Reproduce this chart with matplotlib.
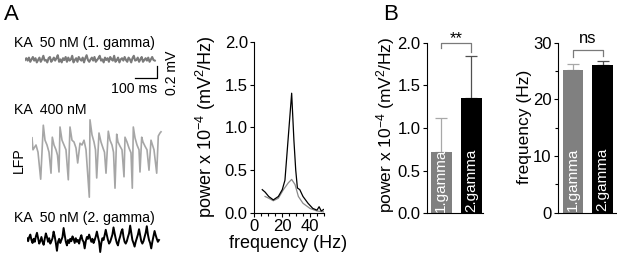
import matplotlib
matplotlib.use("Agg")
import matplotlib.pyplot as plt
import numpy as np

plt.rcParams['font.family'] = ['Liberation Sans', 'DejaVu Sans']
plt.rcParams['mathtext.fontset'] = 'custom'
plt.rcParams['mathtext.rm'] = 'Liberation Sans'
plt.rcParams['mathtext.it'] = 'Liberation Sans:italic'
plt.rcParams['mathtext.bf'] = 'Liberation Sans:bold'

# ---------------- data ----------------
# trace 1: KA 50 nM (1. gamma), mV, evenly sampled over ~590 ms
trace1_mv = [0.00, 0.03, -0.01, 0.04, -0.03, 0.01, 0.05, -0.01, 0.03, -0.04,
             0.00, 0.04, -0.03, 0.01, 0.07, -0.01, 0.00, -0.04, 0.03, 0.05,
             -0.03, 0.00, 0.04, -0.01, 0.03, 0.08, -0.03, 0.01, -0.04, 0.03,
             0.00, 0.05, -0.03, 0.04, -0.01, 0.01, 0.07, -0.04, 0.00, 0.03,
             -0.03, 0.05, 0.01, -0.01, 0.04, -0.04, 0.03, 0.08, 0.00, -0.03,
             0.01, 0.04, -0.01, 0.05, -0.03, 0.00, 0.03, 0.07, -0.01, 0.01,
             -0.04, 0.04, 0.00, 0.03, -0.03, 0.05, 0.01, -0.01, 0.07, -0.03,
             0.00, 0.04, -0.04, 0.01, 0.03, -0.01, 0.05, 0.00, -0.03, 0.04,
             0.01, -0.04, 0.03, 0.07, -0.01, 0.00, 0.04, -0.03, 0.01, 0.05,
             -0.03, 0.00, 0.03, -0.01, 0.04, -0.03, 0.01, 0.05, 0.00, -0.01]
trace1_dur_ms = 590

# trace 2: KA 400 nM (LFP), time (ms) / value (mV)
trace2_t = [0, 4.5, 18.2, 27.3, 39.5, 51.4, 59.1, 68.2, 77.3, 86.4,
            92.3, 100.0, 109.1, 115.9, 122.7, 127.3, 136.4, 145.5, 154.5, 165.0,
            172.7, 181.8, 190.9, 200.0, 207.7, 218.2, 227.3, 236.4, 245.5, 260.5,
            263.6, 272.7, 281.8, 288.6, 294.1, 304.5, 313.6, 322.7, 329.5, 336.4,
            346.8, 354.5, 363.6, 370.5, 377.3, 385.0, 390.9, 400.0, 409.1, 418.2,
            422.7, 431.8, 440.9, 450.0, 455.9, 460.5, 468.2, 477.3, 486.4, 490.9,
            498.6, 504.5, 513.6, 522.7, 531.8, 540.9, 547.7, 554.5, 566.8, 574.1,
            581.8, 586.4]
trace2_mv = [0.37, 0.17, 0.25, 0.13, -0.32, 0.58, 0.33, 0.25, 0.13, -0.22,
             0.38, 0.25, 0.17, 0.08, -0.20, 0.55, 0.33, 0.25, 0.17, -0.33,
             0.55, 0.33, 0.30, 0.20, -0.05, 0.28, 0.25, 0.33, 0.17, -0.62,
             0.67, 0.42, 0.30, 0.17, -0.30, 0.45, 0.30, 0.20, 0.13, -0.22,
             0.48, 0.33, 0.25, 0.13, -0.47, 0.43, 0.30, 0.23, 0.17, -0.28,
             0.38, 0.30, 0.20, 0.12, -0.47, 0.55, 0.37, 0.25, 0.17, -0.20,
             0.38, 0.30, 0.23, 0.17, -0.17, 0.33, 0.25, 0.17, -0.22, 0.40,
             0.45, 0.47]

# trace 3: KA 50 nM (2. gamma), mV, evenly sampled over ~600 ms
trace3_mv = [0.03, -0.02, 0.05, 0.09, 0.00, -0.05, 0.02, -0.03,
             0.06, 0.12, 0.03, -0.06, -0.02, 0.05, -0.03, -0.08,
             0.02, 0.11, 0.05, -0.03, 0.03, -0.06, -0.02, 0.03,
             0.14, 0.06, -0.05, -0.18, -0.03, 0.02, -0.05, 0.00,
             0.05, 0.20, 0.08, -0.03, -0.09, 0.00, -0.05, 0.02,
             -0.02, 0.06, 0.02, -0.05, 0.03, -0.03, 0.00, -0.06,
             0.03, 0.08, 0.00, -0.03, -0.14, -0.02, 0.05, 0.02,
             0.09, 0.03, -0.03, 0.02, -0.05, 0.00, 0.06, 0.14,
             0.05, -0.03, -0.20, -0.05, 0.03, 0.00, 0.08, 0.17,
             0.08, 0.00, -0.06, -0.03, 0.03, 0.09, 0.21, 0.11,
             0.02, -0.05, -0.09, 0.00, 0.06, 0.14, 0.18, 0.05,
             -0.03, -0.06, -0.02, 0.05, 0.11, 0.24, 0.12, 0.00,
             -0.05, -0.11, -0.03, 0.03, 0.09, 0.18, 0.08, -0.02,
             -0.06, -0.02, 0.05, 0.12, 0.23, 0.09, 0.00, -0.05,
             -0.14, -0.03, 0.06, 0.15, 0.08, 0.02, -0.03, 0.00]
trace3_dur_ms = 600

# power spectra
spec_black_f = [5.9, 8.0, 10.5, 13.8, 17.4, 20.2, 22.1, 24.5, 26.9, 28.5, 29.8, 31.0,
                32.7, 35.0, 38.6, 42.0, 45.0, 46.5, 48.0, 50.0]
spec_black_p = [0.27, 0.24, 0.19, 0.15, 0.19, 0.27, 0.38, 0.89, 1.40, 0.85, 0.50, 0.29,
                0.27, 0.19, 0.11, 0.05, 0.03, 0.07, 0.02, 0.04]
spec_gray_f = [7.9, 10.5, 13.8, 17.4, 21.0, 24.5, 26.9, 29.3, 31.7, 35.0, 40.0, 45.0, 50.0]
spec_gray_p = [0.19, 0.17, 0.14, 0.17, 0.27, 0.35, 0.39, 0.33, 0.19, 0.11, 0.05, 0.02, 0.01]

# bar charts
bar_labels = ['1.gamma', '2.gamma']
power_mean = [0.72, 1.35]
power_err = [0.40, 0.49]
freq_mean = [25.1, 26.0]
freq_err = [1.1, 0.7]
bar_colors = ['#808080', '#000000']
err_colors = ['#a8a8a8', '#505050']

# ---------------- layout helpers ----------------
W, H = 617, 258
fig = plt.figure(figsize=(W / 100, H / 100), dpi=100)


def px_axes(x0, y0, x1, y1):
    return fig.add_axes([x0 / W, 1 - y1 / H, (x1 - x0) / W, (y1 - y0) / H])


def ftext(x, y, s, **kw):
    fig.text(x / W, 1 - y / H, s, **kw)


MS_PER_PX = 100 / 22.0
PX_PER_MV = 60.0


def trace_axes(x_left, y_base):
    ax = px_axes(x_left, y_base - 50, x_left + 140, y_base + 50)
    ax.set_xlim(0, 140 * MS_PER_PX)
    ax.set_ylim(-50 / PX_PER_MV, 50 / PX_PER_MV)
    ax.axis('off')
    ax.patch.set_alpha(0)
    return ax


# ---------------- panel A: traces ----------------
ftext(4, 15, 'A', fontsize=16, va='center', ha='left')
ftext(14, 43, 'KA  50 nM (1. gamma)', fontsize=10.2, va='center', ha='left')
ax1 = trace_axes(25, 60)
t1 = np.linspace(0, trace1_dur_ms, len(trace1_mv))
ax1.plot(t1, trace1_mv, color='#7a7a7a', lw=1.5)
# scale bar: 100 ms, 0.2 mV
ax1.plot([500, 600, 600], [-0.30, -0.30, -0.10], color='black', lw=0.9)
ftext(134, 89, '100 ms', fontsize=10.2, va='center', ha='center')
ftext(172, 73, '0.2 mV', fontsize=10.2, va='center', ha='center', rotation=90)

ftext(14, 110, 'KA  400 nM', fontsize=10.2, va='center', ha='left')
ftext(19, 160, 'LFP', fontsize=10.2, va='center', ha='center', rotation=90)
ax2 = trace_axes(32, 160)
ax2.plot(trace2_t, trace2_mv, color='#a6a6a6', lw=1.2)

ftext(14, 218, 'KA  50 nM (2. gamma)', fontsize=10.2, va='center', ha='left')
ax3 = trace_axes(27, 240)
t3 = np.linspace(0, trace3_dur_ms, len(trace3_mv))
ax3.plot(t3, trace3_mv, color='black', lw=1.4)


def style_axes(ax):
    for s in ['top', 'right']:
        ax.spines[s].set_visible(False)
    for s in ['left', 'bottom']:
        ax.spines[s].set_linewidth(0.8)
    ax.tick_params(axis='both', which='both', direction='out', width=0.8,
                   labelsize=12, pad=1.5)
    ax.tick_params(axis='both', which='major', length=3)
    ax.tick_params(axis='both', which='minor', length=2.5)
    ax.patch.set_alpha(0)


# ---------------- spectrum ----------------
axs = px_axes(254, 42.0, 324, 212.7)
axs.plot(spec_gray_f, spec_gray_p, color='#8a8a8a', lw=0.9)
axs.plot(spec_black_f, spec_black_p, color='black', lw=0.9)
axs.set_xlim(0, 50)
axs.set_ylim(0, 2.0)
axs.set_xticks([0, 20, 40])
axs.set_xticks(np.arange(0, 51, 5), minor=True)
axs.set_yticks([0, 0.5, 1.0, 1.5, 2.0])
axs.set_yticklabels(['0.0', '0.5', '1.0', '1.5', '2.0'])
style_axes(axs)
ftext(206, 127, 'power x 10$^{-4}$ (mV$^{2}$/Hz)', fontsize=13, rotation=90,
      va='center', ha='center')
ftext(288, 243, 'frequency (Hz)', fontsize=13, va='center', ha='center')

# ---------------- panel B ----------------
ftext(383, 15, 'B', fontsize=16, va='center', ha='left')


def bar_panel(ax, means, errs, ymax, sig, br_y, leg_l, leg_r, sig_y):
    x = [0, 1]
    for i in range(2):
        ax.bar(x[i], means[i], width=0.69, color=bar_colors[i], zorder=2)
        ax.errorbar(x[i], means[i], yerr=[[0], [errs[i]]], color=err_colors[i],
                    capsize=4.2, capthick=0.9, elinewidth=0.9, zorder=1)
        ax.text(x[i], ymax * 0.008, bar_labels[i], rotation=90, color='white',
                fontsize=11, ha='center', va='bottom', zorder=3)
    ax.plot([0, 0, 1, 1], [leg_l, br_y, br_y, leg_r], color='#7a7a7a', lw=0.9,
            clip_on=False)
    ax.text(0.5, sig_y, sig, ha='center', va='center', fontsize=12, clip_on=False)
    ax.set_ylim(0, ymax)


axb1 = px_axes(427, 42.7, 483.3, 213.3)
bar_panel(axb1, power_mean, power_err, 2.0, '**', 2.0, 1.94, 1.89, 2.05)
axb1.set_xlim(-0.477, 1.4)
axb1.set_xticks([])
axb1.set_yticks([0, 0.5, 1.0, 1.5, 2.0])
axb1.set_yticklabels(['0.0', '0.5', '1.0', '1.5', '2.0'])
style_axes(axb1)
axb1.tick_params(axis='x', length=0)
ftext(386, 125, 'power x 10$^{-4}$ (mV$^{2}$/Hz)', fontsize=12.5, rotation=90,
      va='center', ha='center')

axb2 = px_axes(557.7, 42.7, 616.7, 212.7)
bar_panel(axb2, freq_mean, freq_err, 30, 'ns', 28.7, 27.4, 27.6, 30.8)
axb2.set_xlim(-0.52, 1.48)
axb2.set_xticks([])
axb2.set_yticks([0, 10, 20, 30])
axb2.set_yticks([5, 15, 25], minor=True)
style_axes(axb2)
axb2.tick_params(axis='x', length=0)
ftext(525, 127, 'frequency (Hz)', fontsize=12.5, rotation=90, va='center', ha='center')

fig.savefig('out.png', dpi=100)
